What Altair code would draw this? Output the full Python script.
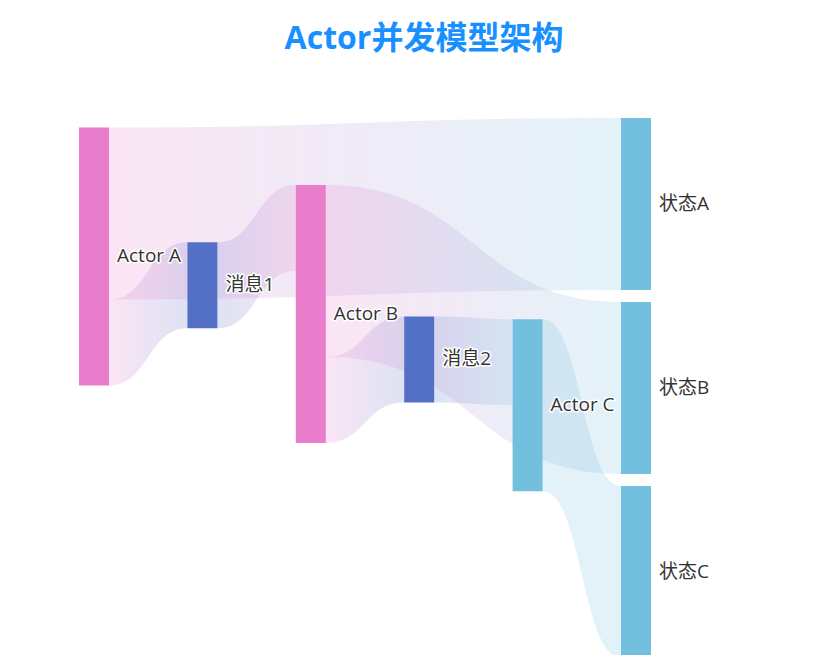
import altair as alt
import pandas as pd
import numpy as np

# ---------------- data ----------------
node_names = ["Actor A", "消息1", "Actor B", "消息2", "Actor C", "状态A", "状态B", "状态C"]
link_source = ["Actor A", "消息1", "Actor B", "消息2", "Actor A", "Actor B", "Actor C"]
link_target = ["消息1", "Actor B", "消息2", "Actor C", "状态A", "状态B", "状态C"]
link_value = [1, 1, 1, 1, 2, 2, 2]

# ---------------- style / layout parameters ----------------
node_color = {
    "Actor A": "#ea7ccc", "消息1": "#5470c6", "Actor B": "#ea7ccc", "消息2": "#5470c6",
    "Actor C": "#73c0de", "状态A": "#73c0de", "状态B": "#73c0de", "状态C": "#73c0de",
}
TITLE = "Actor并发模型架构"
FONT = "Open Sans, Noto Sans CJK SC, sans-serif"
VIEW_W, VIEW_H = 824, 647           # plot area
LAYOUT_LEFT, LAYOUT_TOP = 71, 110   # sankey box inside the plot area
LAYOUT_W, LAYOUT_H = 572, 540
NODE_W, NODE_GAP = 30, 12
ITERATIONS = 32
CURVENESS = 0.5
LINK_OPACITY = 0.2


# ---------------- sankey layout (ECharts-style algorithm) ----------------
def sankey_layout():
    out_e = {n: [] for n in node_names}
    in_e = {n: [] for n in node_names}
    edges = []
    for i, (s, t, v) in enumerate(zip(link_source, link_target, link_value)):
        e = {"id": i, "s": s, "t": t, "v": float(v)}
        edges.append(e)
        out_e[s].append(e)
        in_e[t].append(e)
    depth = {}
    indeg = {n: len(in_e[n]) for n in node_names}
    level = [n for n in node_names if indeg[n] == 0]
    d = 0
    while level:
        nxt = []
        for n in level:
            depth[n] = d
            for e in out_e[n]:
                indeg[e["t"]] -= 1
                if indeg[e["t"]] == 0 and e["t"] not in nxt:
                    nxt.append(e["t"])
        level = nxt
        d += 1
    max_depth = max(depth.values())
    for n in node_names:  # justify: sinks to the right
        if not out_e[n]:
            depth[n] = max_depth
    kx = (LAYOUT_W - NODE_W) / max_depth
    val = {n: max(sum(e["v"] for e in in_e[n]), sum(e["v"] for e in out_e[n])) for n in node_names}
    cols = [[n for n in node_names if depth[n] == c] for c in range(max_depth + 1)]
    ky = min((LAYOUT_H - (len(c) - 1) * NODE_GAP) / sum(val[n] for n in c) for c in cols)
    y = {}
    dy = {n: val[n] * ky for n in node_names}
    for c in cols:
        for i, n in enumerate(c):
            y[n] = float(i)

    def center(n):
        return y[n] + dy[n] / 2

    def resolve():
        for c in cols:
            c.sort(key=lambda n: y[n])
            y0 = 0.0
            for n in c:
                delta = y0 - y[n]
                if delta > 0:
                    y[n] += delta
                y0 = y[n] + dy[n] + NODE_GAP
            delta = y0 - NODE_GAP - LAYOUT_H
            if delta > 0:
                last = c[-1]
                y[last] -= delta
                y0 = y[last]
                for n in reversed(c[:-1]):
                    delta = y[n] + dy[n] + NODE_GAP - y0
                    if delta > 0:
                        y[n] -= delta
                    y0 = y[n]

    resolve()
    alpha = 1.0
    for _ in range(ITERATIONS):
        alpha *= 0.99
        for c in reversed(cols):
            for n in c:
                if out_e[n]:
                    tgt = sum(center(e["t"]) * e["v"] for e in out_e[n]) / sum(e["v"] for e in out_e[n])
                    y[n] += (tgt - center(n)) * alpha
        resolve()
        for c in cols:
            for n in c:
                if in_e[n]:
                    src = sum(center(e["s"]) * e["v"] for e in in_e[n]) / sum(e["v"] for e in in_e[n])
                    y[n] += (src - center(n)) * alpha
        resolve()
    for n in node_names:
        sy = 0.0
        for e in sorted(out_e[n], key=lambda e: y[e["t"]]):
            e["sy"] = sy
            sy += e["v"] * ky
        ty = 0.0
        for e in sorted(in_e[n], key=lambda e: y[e["s"]]):
            e["ty"] = ty
            ty += e["v"] * ky
    x = {n: depth[n] * kx for n in node_names}
    nodes = pd.DataFrame({
        "name": node_names,
        "x0": [x[n] for n in node_names],
        "x1": [x[n] + NODE_W for n in node_names],
        "y0": [y[n] for n in node_names],
        "y1": [y[n] + dy[n] for n in node_names],
    })
    nodes["yc"] = (nodes["y0"] + nodes["y1"]) / 2
    rows = []
    ts = np.linspace(0, 1, 80)
    for e in edges:
        x1 = x[e["s"]] + NODE_W
        x2 = x[e["t"]]
        y1 = y[e["s"]] + e["sy"]
        y2 = y[e["t"]] + e["ty"]
        h = e["v"] * ky
        cx1 = x1 * (1 - CURVENESS) + x2 * CURVENESS
        cx2 = x1 * CURVENESS + x2 * (1 - CURVENESS)
        for t in ts:
            a, b, c_, d_ = (1 - t) ** 3, 3 * (1 - t) ** 2 * t, 3 * (1 - t) * t ** 2, t ** 3
            px = a * x1 + b * cx1 + c_ * cx2 + d_ * x2
            py = a * y1 + b * y1 + c_ * y2 + d_ * y2
            rows.append({"link": e["id"], "px": float(px), "top": float(py), "bottom": float(py + h)})
    return nodes, pd.DataFrame(rows), edges


nodes_df, links_df, edges = sankey_layout()
nodes_df["color"] = [node_color[n] for n in nodes_df["name"]]

xs = alt.Scale(domain=[-LAYOUT_LEFT, VIEW_W - LAYOUT_LEFT], nice=False, zero=False)
ys = alt.Scale(domain=[-LAYOUT_TOP, VIEW_H - LAYOUT_TOP], nice=False, zero=False, reverse=True)

layers = []
for e in edges:
    c1, c2 = node_color[e["s"]], node_color[e["t"]]
    if c1 == c2:
        fill = c1
    else:
        fill = alt.Gradient(
            gradient="linear",
            stops=[alt.GradientStop(color=c1, offset=0), alt.GradientStop(color=c2, offset=1)],
            x1=0, x2=1, y1=0, y2=0,
        )
    layers.append(
        alt.Chart(links_df).transform_filter(alt.datum.link == e["id"])
        .mark_area(color=fill, fillOpacity=LINK_OPACITY)
        .encode(
            x=alt.X("px:Q", scale=xs, axis=None),
            y=alt.Y("top:Q", scale=ys, axis=None),
            y2="bottom:Q",
        )
    )

node_layer = alt.Chart(nodes_df).mark_rect().encode(
    x=alt.X("x0:Q", scale=xs, axis=None), x2="x1:Q",
    y=alt.Y("y0:Q", scale=ys, axis=None), y2="y1:Q",
    color=alt.Color("color:N", scale=None),
)

label_base = alt.Chart(nodes_df).encode(
    x=alt.X("x1:Q", scale=xs, axis=None),
    y=alt.Y("yc:Q", scale=ys, axis=None),
    text="name:N",
)
halo = label_base.mark_text(align="left", baseline="middle", dx=8, font=FONT, fontSize=19,
                            color="white", stroke="white", strokeWidth=3, strokeJoin="round")
label = label_base.mark_text(align="left", baseline="middle", dx=8, font=FONT, fontSize=19,
                             color="#333333")

chart = alt.layer(*layers, node_layer, halo, label).properties(
    width=VIEW_W, height=VIEW_H,
    autosize=alt.AutoSizeParams(type="none"),
    padding=0,
    background="white",
    title=alt.TitleParams(text=TITLE, fontSize=32, fontWeight="bold", color="#1890ff",
                          font=FONT, anchor="middle", offset=-48, baseline="top", dx=4),
).configure_view(stroke=None)

chart.save("out.html", embed_options={"renderer": "svg", "actions": False})
